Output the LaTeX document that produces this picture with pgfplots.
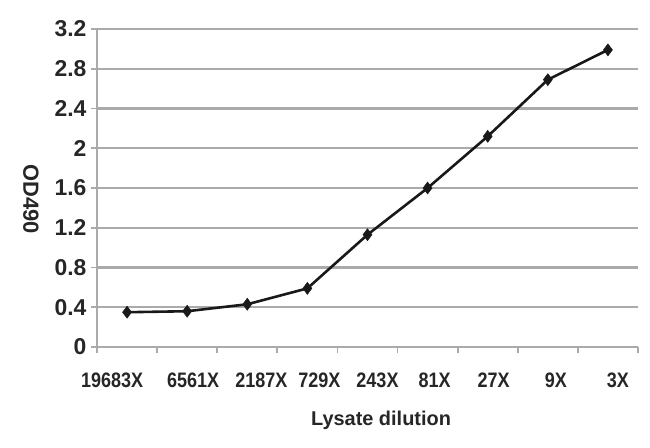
\documentclass[border=0pt]{standalone}
\usepackage{graphicx}
\usepackage{pgfplots}
\pgfplotsset{compat=1.18}
\usepackage{fontspec}
\setmainfont{Liberation Sans}
\definecolor{gridgray}{RGB}{170,170,170}
\definecolor{linecol}{RGB}{25,25,25}
\newcommand{\xl}[2]{\hspace*{#1}\scalebox{0.86}[1]{#2}}
\begin{document}
\begin{tikzpicture}
\path[use as bounding box] (-97bp,-101bp) rectangle (553bp,347bp);
\begin{axis}[
  at={(0,0)}, anchor=south west,
  scale only axis,
  width=541bp, height=318bp,
  xmin=-0.5, xmax=8.5,
  ymin=0, ymax=3.2,
  axis x line=bottom, axis y line=left,
  axis line style={-, gridgray, line width=1.8bp},
  xtick={0,...,8},
  xticklabels={\xl{-30bp}{19683X},\xl{12bp}{6561X},\xl{28bp}{2187X},\xl{24bp}{729X},\xl{20bp}{243X},\xl{14bp}{81X},\xl{12bp}{27X},\xl{16bp}{9X},\xl{20bp}{3X}},
  minor xtick={-0.5,0.5,...,8.5},
  major x tick style={draw=none},
  minor tick length=6bp,
  ytick={0,0.4,...,3.2},
  yticklabels={0,0.4,0.8,1.2,1.6,2,2.4,2.8,3.2},
  major tick length=6bp,
  tick align=outside,
  tick style={gridgray, line width=1.8bp},
  ymajorgrids,
  grid style={gridgray, line width=2.2bp},
  /pgf/number format/assume math mode=true,
  xticklabel style={font=\fontsize{21}{24}\selectfont\bfseries, yshift=-16bp, color=black!85},
  yticklabel style={font=\fontsize{23}{26}\selectfont\bfseries, xshift=-1bp, color=black!85},
  xlabel={Lysate dilution},
  xlabel style={font=\fontsize{20}{22}\selectfont\bfseries, at={(axis description cs:0.525,-0.23)}, anchor=center, color=black!85},
  ylabel={OD490},
  ylabel style={font=\fontsize{22}{24}\selectfont\bfseries, at={(axis description cs:-0.122,0.465)}, anchor=center, rotate=180, color=black!85},
  clip=false,
]
\addplot[color=linecol, line width=2.6bp, mark=diamond*, mark size=6bp, mark options={fill=linecol, line width=0.5bp}]
  coordinates {(0,0.35) (1,0.36) (2,0.43) (3,0.59) (4,1.13) (5,1.60) (6,2.12) (7,2.69) (8,2.99)};
\end{axis}
\end{tikzpicture}
\end{document}
